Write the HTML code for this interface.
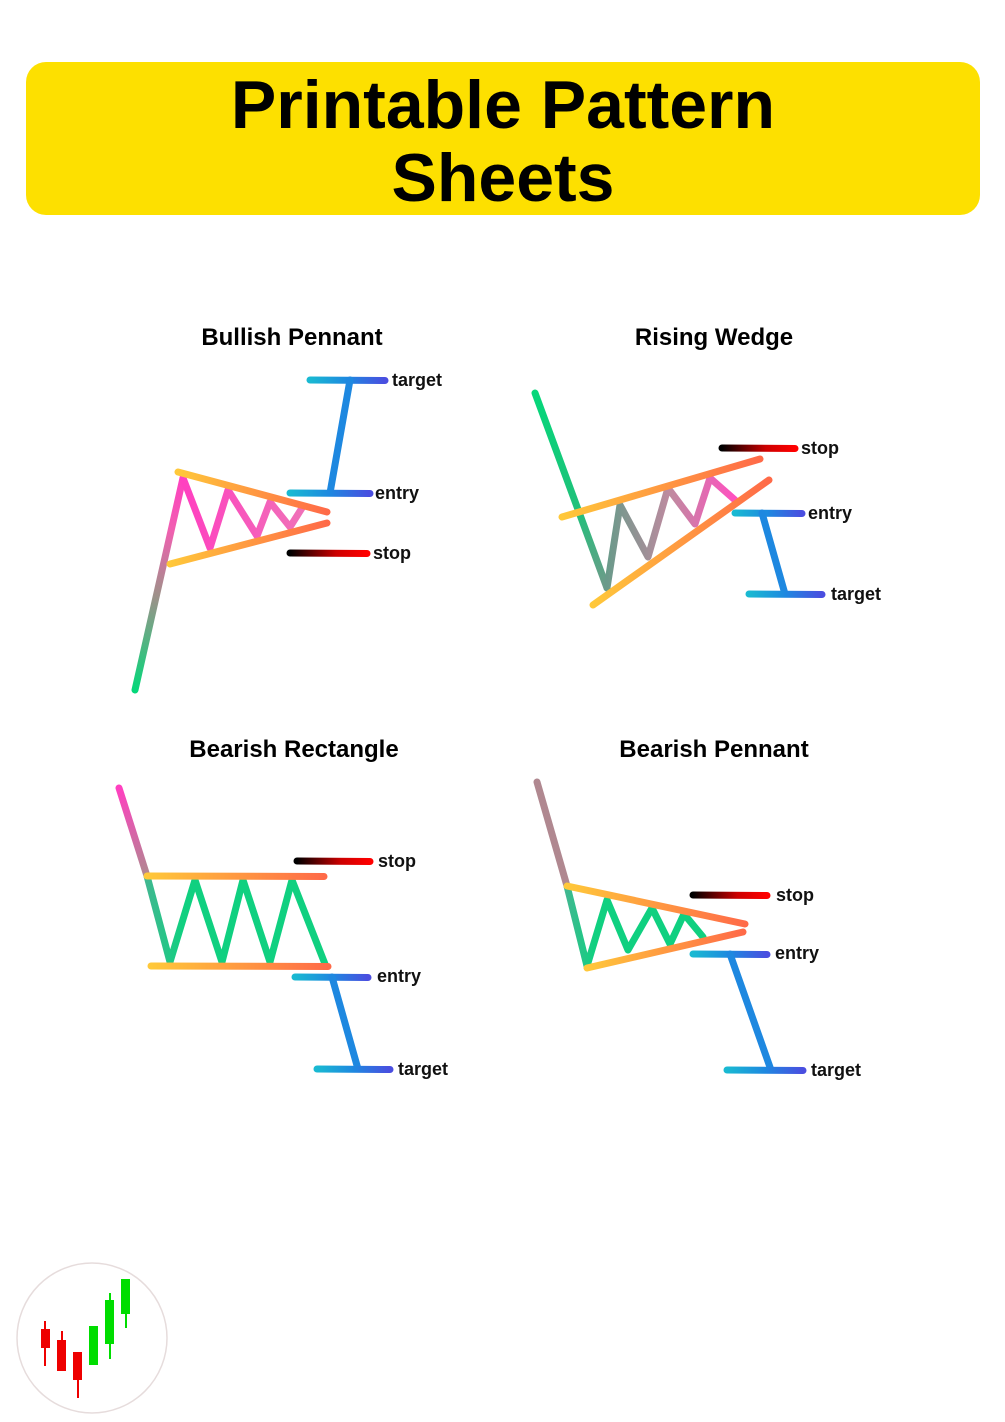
<!DOCTYPE html>
<html><head><meta charset="utf-8"><style>
html,body{margin:0;padding:0;background:#fff;}
svg{display:block;}
text{font-family:"Liberation Sans",sans-serif;}
</style></head><body>
<svg width="1005" height="1422" viewBox="0 0 1005 1422" xmlns="http://www.w3.org/2000/svg">
<defs>
<linearGradient id="bar" x1="0" x2="1" y1="0" y2="0"><stop offset="0" stop-color="#19b9d2"/><stop offset=".5" stop-color="#1e88e0"/><stop offset="1" stop-color="#4a4ee0"/></linearGradient>
<linearGradient id="stp" x1="0" x2="1" y1="0" y2="0"><stop offset="0" stop-color="#000"/><stop offset=".6" stop-color="#c00"/><stop offset="1" stop-color="#f00"/></linearGradient>
<linearGradient id="yo" x1="0" x2="1" y1="0" y2="0"><stop offset="0" stop-color="#ffc83a"/><stop offset="1" stop-color="#ff6a48"/></linearGradient>
<linearGradient id="p1" gradientUnits="userSpaceOnUse" x1="135" y1="690" x2="183" y2="478"><stop offset="0" stop-color="#05d77a"/><stop offset=".45" stop-color="#a0908a"/><stop offset=".75" stop-color="#f060b0"/><stop offset="1" stop-color="#ff40c0"/></linearGradient>
<linearGradient id="z1" x1="0" x2="1"><stop offset="0" stop-color="#ff40c0"/><stop offset="1" stop-color="#f070b8"/></linearGradient>
<linearGradient id="p2" gradientUnits="userSpaceOnUse" x1="535" y1="393" x2="607" y2="588"><stop offset="0" stop-color="#05d77a"/><stop offset=".6" stop-color="#20c07a"/><stop offset="1" stop-color="#709a8a"/></linearGradient>
<linearGradient id="z2" x1="0" x2="1"><stop offset="0" stop-color="#6a9a8a"/><stop offset=".5" stop-color="#c08aa0"/><stop offset="1" stop-color="#ff50c0"/></linearGradient>
<linearGradient id="p3" gradientUnits="userSpaceOnUse" x1="119" y1="788" x2="147" y2="876"><stop offset="0" stop-color="#ff40c0"/><stop offset="1" stop-color="#b08890"/></linearGradient>
<linearGradient id="z3" x1="0" x2="1"><stop offset="0" stop-color="#40b890"/><stop offset=".2" stop-color="#10d080"/><stop offset="1" stop-color="#10d080"/></linearGradient>
</defs>
<rect x="26" y="62" width="954" height="153" rx="20" fill="#fde000"/>
<text x="503" y="128" font-size="68" font-weight="bold" text-anchor="middle">Printable Pattern</text>
<text x="503" y="201" font-size="68" font-weight="bold" text-anchor="middle">Sheets</text>

<g font-size="24" font-weight="bold" text-anchor="middle">
<text x="292" y="345">Bullish Pennant</text>
<text x="714" y="345">Rising Wedge</text>
<text x="294" y="757">Bearish Rectangle</text>
<text x="714" y="757">Bearish Pennant</text>
</g>

<g fill="none" stroke-width="7" stroke-linecap="round" stroke-linejoin="round">
<!-- Bullish pennant -->
<line x1="135" y1="690" x2="183" y2="478" stroke="url(#p1)"/>
<polyline points="183,478 210,548 228,490 257,536 270,502 290,527 302,508" stroke="url(#z1)"/>
<line x1="178" y1="472" x2="327" y2="512" stroke="url(#yo)"/>
<line x1="170" y1="564" x2="327" y2="523" stroke="url(#yo)"/>
<line x1="310" y1="380" x2="385" y2="380.5" stroke="url(#bar)"/>
<line x1="350" y1="380" x2="330" y2="493" stroke="#1e88e0"/>
<line x1="290" y1="493" x2="370" y2="493.5" stroke="url(#bar)"/>
<line x1="290" y1="553" x2="367" y2="553.5" stroke="url(#stp)"/>
<!-- Rising wedge -->
<line x1="535" y1="393" x2="607" y2="588" stroke="url(#p2)"/>
<polyline points="607,588 620,505 648,557 668,488 695,524 710,478 735,500" stroke="url(#z2)"/>
<line x1="562" y1="517" x2="760" y2="459" stroke="url(#yo)"/>
<line x1="593" y1="605" x2="769" y2="480" stroke="url(#yo)"/>
<line x1="722" y1="448" x2="795" y2="448.5" stroke="url(#stp)"/>
<line x1="735" y1="513" x2="802" y2="513.5" stroke="url(#bar)"/>
<line x1="762" y1="513" x2="785" y2="594" stroke="#1e88e0"/>
<line x1="749" y1="594" x2="822" y2="594.5" stroke="url(#bar)"/>
<!-- Bearish rectangle -->
<line x1="119" y1="788" x2="147" y2="876" stroke="url(#p3)"/>
<polyline points="147,876 170,962 195,880 222,962 243,880 270,962 292,880 325,964" stroke="url(#z3)"/>
<line x1="147" y1="876" x2="324" y2="876.5" stroke="url(#yo)"/>
<line x1="151" y1="966" x2="328" y2="966.5" stroke="url(#yo)"/>
<line x1="297" y1="861" x2="370" y2="861.5" stroke="url(#stp)"/>
<line x1="295" y1="977" x2="368" y2="977.5" stroke="url(#bar)"/>
<line x1="332" y1="977" x2="358" y2="1069" stroke="#1e88e0"/>
<line x1="317" y1="1069" x2="390" y2="1069.5" stroke="url(#bar)"/>
<!-- Bearish pennant -->
<line x1="537" y1="782" x2="567" y2="886" stroke="url(#p3)"/>
<polyline points="567,886 587,966 607,900 628,950 652,908 670,944 684,914 703,937" stroke="url(#z3)"/>
<line x1="567" y1="886" x2="745" y2="924" stroke="url(#yo)"/>
<line x1="587" y1="968" x2="743" y2="932" stroke="url(#yo)"/>
<line x1="693" y1="895" x2="767" y2="895.5" stroke="url(#stp)"/>
<line x1="693" y1="954" x2="767" y2="954.5" stroke="url(#bar)"/>
<line x1="730" y1="954" x2="771" y2="1070" stroke="#1e88e0"/>
<line x1="727" y1="1070" x2="803" y2="1070.5" stroke="url(#bar)"/>
</g>

<g font-size="18" font-weight="bold" fill="#111">
<text x="392" y="386">target</text>
<text x="375" y="499">entry</text>
<text x="373" y="559">stop</text>
<text x="801" y="454">stop</text>
<text x="808" y="519">entry</text>
<text x="831" y="600">target</text>
<text x="378" y="867">stop</text>
<text x="377" y="982">entry</text>
<text x="398" y="1075">target</text>
<text x="776" y="901">stop</text>
<text x="775" y="959">entry</text>
<text x="811" y="1076">target</text>
</g>

<!-- logo -->
<circle cx="92" cy="1338" r="75" fill="#fff" stroke="#e6dcdc" stroke-width="1.5"/>
<g>
<rect x="44" y="1321" width="2" height="45" fill="#e00"/><rect x="41" y="1329" width="9" height="19" fill="#e00"/>
<rect x="61" y="1331" width="2" height="33" fill="#e00"/><rect x="57" y="1340" width="9" height="31" fill="#e00"/>
<rect x="77" y="1370" width="2" height="28" fill="#e00"/><rect x="73" y="1352" width="9" height="28" fill="#e00"/>
<rect x="89" y="1326" width="9" height="39" fill="#0d0"/>
<rect x="109" y="1293" width="2" height="66" fill="#0d0"/><rect x="105" y="1300" width="9" height="44" fill="#0d0"/>
<rect x="125" y="1310" width="2" height="18" fill="#0d0"/><rect x="121" y="1279" width="9" height="35" fill="#0d0"/>
</g>
</svg>
</body></html>
